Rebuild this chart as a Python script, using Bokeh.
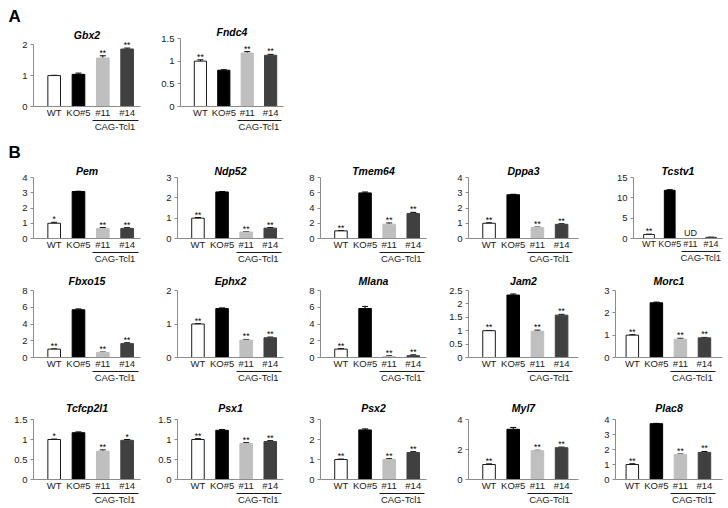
from bokeh.plotting import figure
from bokeh.models import (Range1d, FixedTicker, LinearAxis, Whisker, TeeHead, ColumnDataSource,
                          Title, LabelSet)
from bokeh.layouts import column, row
from bokeh.embed import file_html
from bokeh.resources import INLINE
from bokeh.core.properties import value

FONT = "Liberation Sans, Arial, Helvetica, sans-serif"

# ---------------- data ----------------
groups = ["WT", "KO#5", "#11", "#14"]
group_label = "CAG-Tcl1"
fill_colors = ["#ffffff", "#000000", "#bfbfbf", "#404040"]
line_colors = ["#1a1a1a", "#000000", "#bfbfbf", "#404040"]

gbx2_val = [1.00, 1.04, 1.57, 1.86]
gbx2_err = [0.01, 0.04, 0.07, 0.03]
gbx2_sig = ["", "", "**", "**"]
gbx2_ticks = [0, 1, 2]

fndc4_val = [1.00, 0.80, 1.18, 1.13]
fndc4_err = [0.03, 0.01, 0.03, 0.02]
fndc4_sig = ["**", "", "**", "**"]
fndc4_ticks = [0, 0.5, 1, 1.5]

pem_val = [1.00, 3.08, 0.66, 0.66]
pem_err = [0.06, 0.02, 0.06, 0.05]
pem_sig = ["*", "", "**", "**"]
pem_ticks = [0, 1, 2, 3, 4]

ndp52_val = [1.00, 2.29, 0.32, 0.51]
ndp52_err = [0.03, 0.02, 0.02, 0.03]
ndp52_sig = ["**", "", "**", "**"]
ndp52_ticks = [0, 1, 2, 3]

tmem64_val = [1.00, 5.98, 1.88, 3.28]
tmem64_err = [0.03, 0.12, 0.15, 0.15]
tmem64_sig = ["**", "", "**", "**"]
tmem64_ticks = [0, 2, 4, 6, 8]

dppa3_val = [1.00, 2.87, 0.72, 0.93]
dppa3_err = [0.03, 0.03, 0.03, 0.04]
dppa3_sig = ["**", "", "**", "**"]
dppa3_ticks = [0, 1, 2, 3, 4]

tcstv1_val = [1.00, 11.85, None, 0.28]
tcstv1_err = [0.05, 0.15, 0.0, 0.05]
tcstv1_sig = ["**", "", "", ""]
tcstv1_note = ["", "", "UD", ""]
tcstv1_ticks = [0, 5, 10, 15]

fbxo15_val = [1.00, 5.70, 0.60, 1.66]
fbxo15_err = [0.03, 0.10, 0.05, 0.10]
fbxo15_sig = ["**", "", "**", "**"]
fbxo15_ticks = [0, 2, 4, 6, 8]

ephx2_val = [1.00, 1.46, 0.52, 0.59]
ephx2_err = [0.01, 0.02, 0.02, 0.02]
ephx2_sig = ["**", "", "**", "**"]
ephx2_ticks = [0, 1, 2]

mlana_val = [1.00, 5.85, 0.12, 0.22]
mlana_err = [0.05, 0.25, 0.08, 0.10]
mlana_sig = ["**", "", "**", "**"]
mlana_ticks = [0, 2, 4, 6, 8]

jam2_val = [1.00, 2.33, 0.98, 1.58]
jam2_err = [0.01, 0.04, 0.04, 0.03]
jam2_sig = ["**", "", "**", "**"]
jam2_ticks = [0, 0.5, 1, 1.5, 2, 2.5]

morc1_val = [1.00, 2.45, 0.82, 0.88]
morc1_err = [0.02, 0.03, 0.04, 0.02]
morc1_sig = ["**", "", "**", "**"]
morc1_ticks = [0, 1, 2, 3]

tcfcp2l1_val = [1.00, 1.17, 0.71, 0.98]
tcfcp2l1_err = [0.01, 0.02, 0.03, 0.02]
tcfcp2l1_sig = ["*", "", "**", "*"]
tcfcp2l1_ticks = [0, 0.5, 1, 1.5]

psx1_val = [1.00, 1.23, 0.90, 0.95]
psx1_err = [0.02, 0.02, 0.02, 0.02]
psx1_sig = ["**", "", "**", "**"]
psx1_ticks = [0, 0.5, 1, 1.5]

psx2_val = [1.00, 2.48, 1.00, 1.35]
psx2_err = [0.02, 0.05, 0.04, 0.04]
psx2_sig = ["**", "", "**", "**"]
psx2_ticks = [0, 1, 2, 3]

myl7_val = [1.00, 3.35, 1.92, 2.12]
myl7_err = [0.04, 0.12, 0.03, 0.04]
myl7_sig = ["**", "", "**", "**"]
myl7_ticks = [0, 2, 4]

plac8_val = [1.00, 3.72, 1.66, 1.81]
plac8_err = [0.05, 0.02, 0.04, 0.06]
plac8_sig = ["**", "", "**", "**"]
plac8_ticks = [0, 1, 2, 3, 4]

AXIS_GRAY = "#8c8c8c"
TEXT = "#1a1a1a"
TICK_SIZE = "9.5px"


def panel(title, vals, errs, sigs, ticks, w, h, left, frame_w, top, bottom,
          title_gap, xr=(0.15, 4.55), notes=None, letter=None, letter_gap=0,
          xfont=TICK_SIZE, headroom=0.0, title_shift=0):
    ymax = ticks[-1] + headroom
    p = figure(width=w, height=h, x_range=Range1d(*xr), y_range=Range1d(ticks[0], ymax),
               x_axis_type=None, y_axis_type=None, toolbar_location=None, title=None,
               output_backend="svg", min_border_left=left,
               min_border_right=max(w - left - frame_w, 0),
               min_border_top=top, min_border_bottom=bottom)
    p.outline_line_color = None
    p.background_fill_color = "white"
    p.border_fill_color = "white"

    p.add_layout(Title(text=title, align="center", offset=title_shift, text_font=FONT,
                       text_font_size="10.5px", text_font_style="bold italic",
                       text_color="#000000", standoff=title_gap), "above")
    if letter is not None:
        p.add_layout(Title(text=letter, align="left", offset=-left + 8, text_font=FONT,
                           text_font_size="17px", text_font_style="bold",
                           text_color="#000000", standoff=letter_gap), "above")

    xs = list(range(1, len(groups) + 1))
    keep = [i for i, v in enumerate(vals) if v is not None]
    src = ColumnDataSource(dict(
        x=[xs[i] for i in keep],
        top=[vals[i] for i in keep],
        hi=[vals[i] + errs[i] for i in keep],
        fill=[fill_colors[i] for i in keep],
        line=[line_colors[i] for i in keep],
        sig=[sigs[i] for i in keep],
    ))
    p.vbar(x="x", top="top", bottom=0, width=0.52, fill_color="fill", line_color="line",
           line_width=1, source=src)
    p.add_layout(Whisker(source=src, base="x", lower="top", upper="hi",
                         upper_head=TeeHead(size=6, line_color="black", line_width=1),
                         lower_head=None, line_color="black", line_width=1))
    p.add_layout(LabelSet(x="x", y="hi", text="sig", source=src, text_align="center",
                          text_baseline="bottom", y_offset=-2, text_font=value(FONT),
                          text_font_size=value("8.5px"), text_color=value("black")))
    if notes is not None:
        nsrc = ColumnDataSource(dict(
            x=[xs[i] for i, n in enumerate(notes) if n],
            y=[0 for n in notes if n],
            t=[n for n in notes if n],
        ))
        p.add_layout(LabelSet(x="x", y="y", text="t", source=nsrc, text_align="center",
                              text_baseline="bottom", y_offset=1, text_font=value(FONT),
                              text_font_size=value(xfont), text_color=value(TEXT)))

    yax = LinearAxis(ticker=FixedTicker(ticks=ticks), bounds=(ticks[0], ticks[-1]),
                     major_label_overrides={t: f"{t:g}" for t in ticks})
    yax.axis_line_color = AXIS_GRAY
    yax.major_tick_line_color = AXIS_GRAY
    yax.major_tick_out = 3
    yax.major_tick_in = 0
    yax.minor_tick_line_color = None
    yax.major_label_standoff = 3
    yax.major_label_text_font = FONT
    yax.major_label_text_font_size = TICK_SIZE
    yax.major_label_text_color = TEXT
    p.add_layout(yax, "left")

    xax = LinearAxis(ticker=FixedTicker(ticks=xs),
                     major_label_overrides={x: g for x, g in zip(xs, groups)})
    xax.axis_line_color = AXIS_GRAY
    xax.major_tick_line_color = None
    xax.major_tick_out = 0
    xax.major_tick_in = 0
    xax.minor_tick_line_color = None
    xax.minor_tick_out = 0
    xax.major_label_standoff = 0
    xax.major_label_text_font = FONT
    xax.major_label_text_font_size = xfont
    xax.major_label_text_color = TEXT
    p.add_layout(xax, "below")

    mid = (xs[2] + xs[3]) / 2
    gax = LinearAxis(ticker=FixedTicker(ticks=[mid]), major_label_overrides={mid: group_label},
                     bounds=(xs[2] - 0.42, xs[3] + 0.45))
    gax.axis_line_color = TEXT
    gax.major_tick_line_color = None
    gax.major_tick_out = 0
    gax.major_tick_in = 0
    gax.minor_tick_line_color = None
    gax.minor_tick_out = 0
    gax.major_label_standoff = 0
    gax.major_label_text_font = FONT
    gax.major_label_text_font_size = TICK_SIZE
    gax.major_label_text_color = TEXT
    p.add_layout(gax, "below")
    return p


# ---------------- layout ----------------
XR5 = (0.3, 4.75)
XR4 = (0.15, 4.7)

# row A: y 0..140, frame (0..2) at 38..106; Gbx2 gets headroom for its asterisks
hA, tA, bA, gA = 140, 38, 34, 2
a1 = panel("Gbx2", gbx2_val, gbx2_err, gbx2_sig, gbx2_ticks, 145, hA, 33, 107, 31, bA, -5,
           letter="A", letter_gap=8, headroom=0.2, title_shift=5)
a2 = panel("Fndc4", fndc4_val, fndc4_err, fndc4_sig, fndc4_ticks, 145, hA, 35, 103, tA, bA, gA)

# row B1: y 140..266, frame 174..242
h1, t1, b1, g1 = 126, 34, 24, 2
r1 = [
    panel("Pem", pem_val, pem_err, pem_sig, pem_ticks, 145, h1, 33, 107, t1, b1, g1,
          letter="B", letter_gap=0),
    panel("Ndp52", ndp52_val, ndp52_err, ndp52_sig, ndp52_ticks, 145, h1, 32, 106, t1, b1, g1),
    panel("Tmem64", tmem64_val, tmem64_err, tmem64_sig, tmem64_ticks, 145, h1, 30, 106, t1, b1, g1),
    panel("Dppa3", dppa3_val, dppa3_err, dppa3_sig, dppa3_ticks, 145, h1, 33, 110, t1, b1, g1, xr=XR4),
    panel("Tcstv1", tcstv1_val, tcstv1_err, tcstv1_sig, tcstv1_ticks, 147, h1, 53, 89, t1, b1, g1,
          xr=(0.25, 4.55), notes=tcstv1_note, xfont="9px"),
]

# row B2: y 266..385, frame 290..360
h2, t2, b2, g2 = 119, 24, 25, 8
r2 = [
    panel("Fbxo15", fbxo15_val, fbxo15_err, fbxo15_sig, fbxo15_ticks, 145, h2, 33, 107, t2, b2, g2),
    panel("Ephx2", ephx2_val, ephx2_err, ephx2_sig, ephx2_ticks, 145, h2, 32, 106, t2, b2, g2),
    panel("Mlana", mlana_val, mlana_err, mlana_sig, mlana_ticks, 145, h2, 30, 106, t2, b2, g2),
    panel("Jam2", jam2_val, jam2_err, jam2_sig, jam2_ticks, 145, h2, 33, 110, t2, b2, g2, xr=XR4),
    panel("Morc1", morc1_val, morc1_err, morc1_sig, morc1_ticks, 147, h2, 35, 107, t2, b2, g2, xr=XR5),
]

# row B3: y 385..507, frame 419..482
h3, t3, b3, g3 = 122, 34, 25, 12
r3 = [
    panel("Tcfcp2l1", tcfcp2l1_val, tcfcp2l1_err, tcfcp2l1_sig, tcfcp2l1_ticks, 145, h3, 33, 107, t3, b3, g3),
    panel("Psx1", psx1_val, psx1_err, psx1_sig, psx1_ticks, 145, h3, 32, 106, t3, b3, g3),
    panel("Psx2", psx2_val, psx2_err, psx2_sig, psx2_ticks, 145, h3, 30, 106, t3, b3, g3),
    panel("Myl7", myl7_val, myl7_err, myl7_sig, myl7_ticks, 145, h3, 33, 110, t3, b3, g3, xr=XR4),
    panel("Plac8", plac8_val, plac8_err, plac8_sig, plac8_ticks, 147, h3, 35, 107, t3, b3, g3, xr=XR5),
]

layout = column(row(a1, a2), row(*r1), row(*r2), row(*r3))
open("out.html", "w").write(file_html(layout, INLINE))
